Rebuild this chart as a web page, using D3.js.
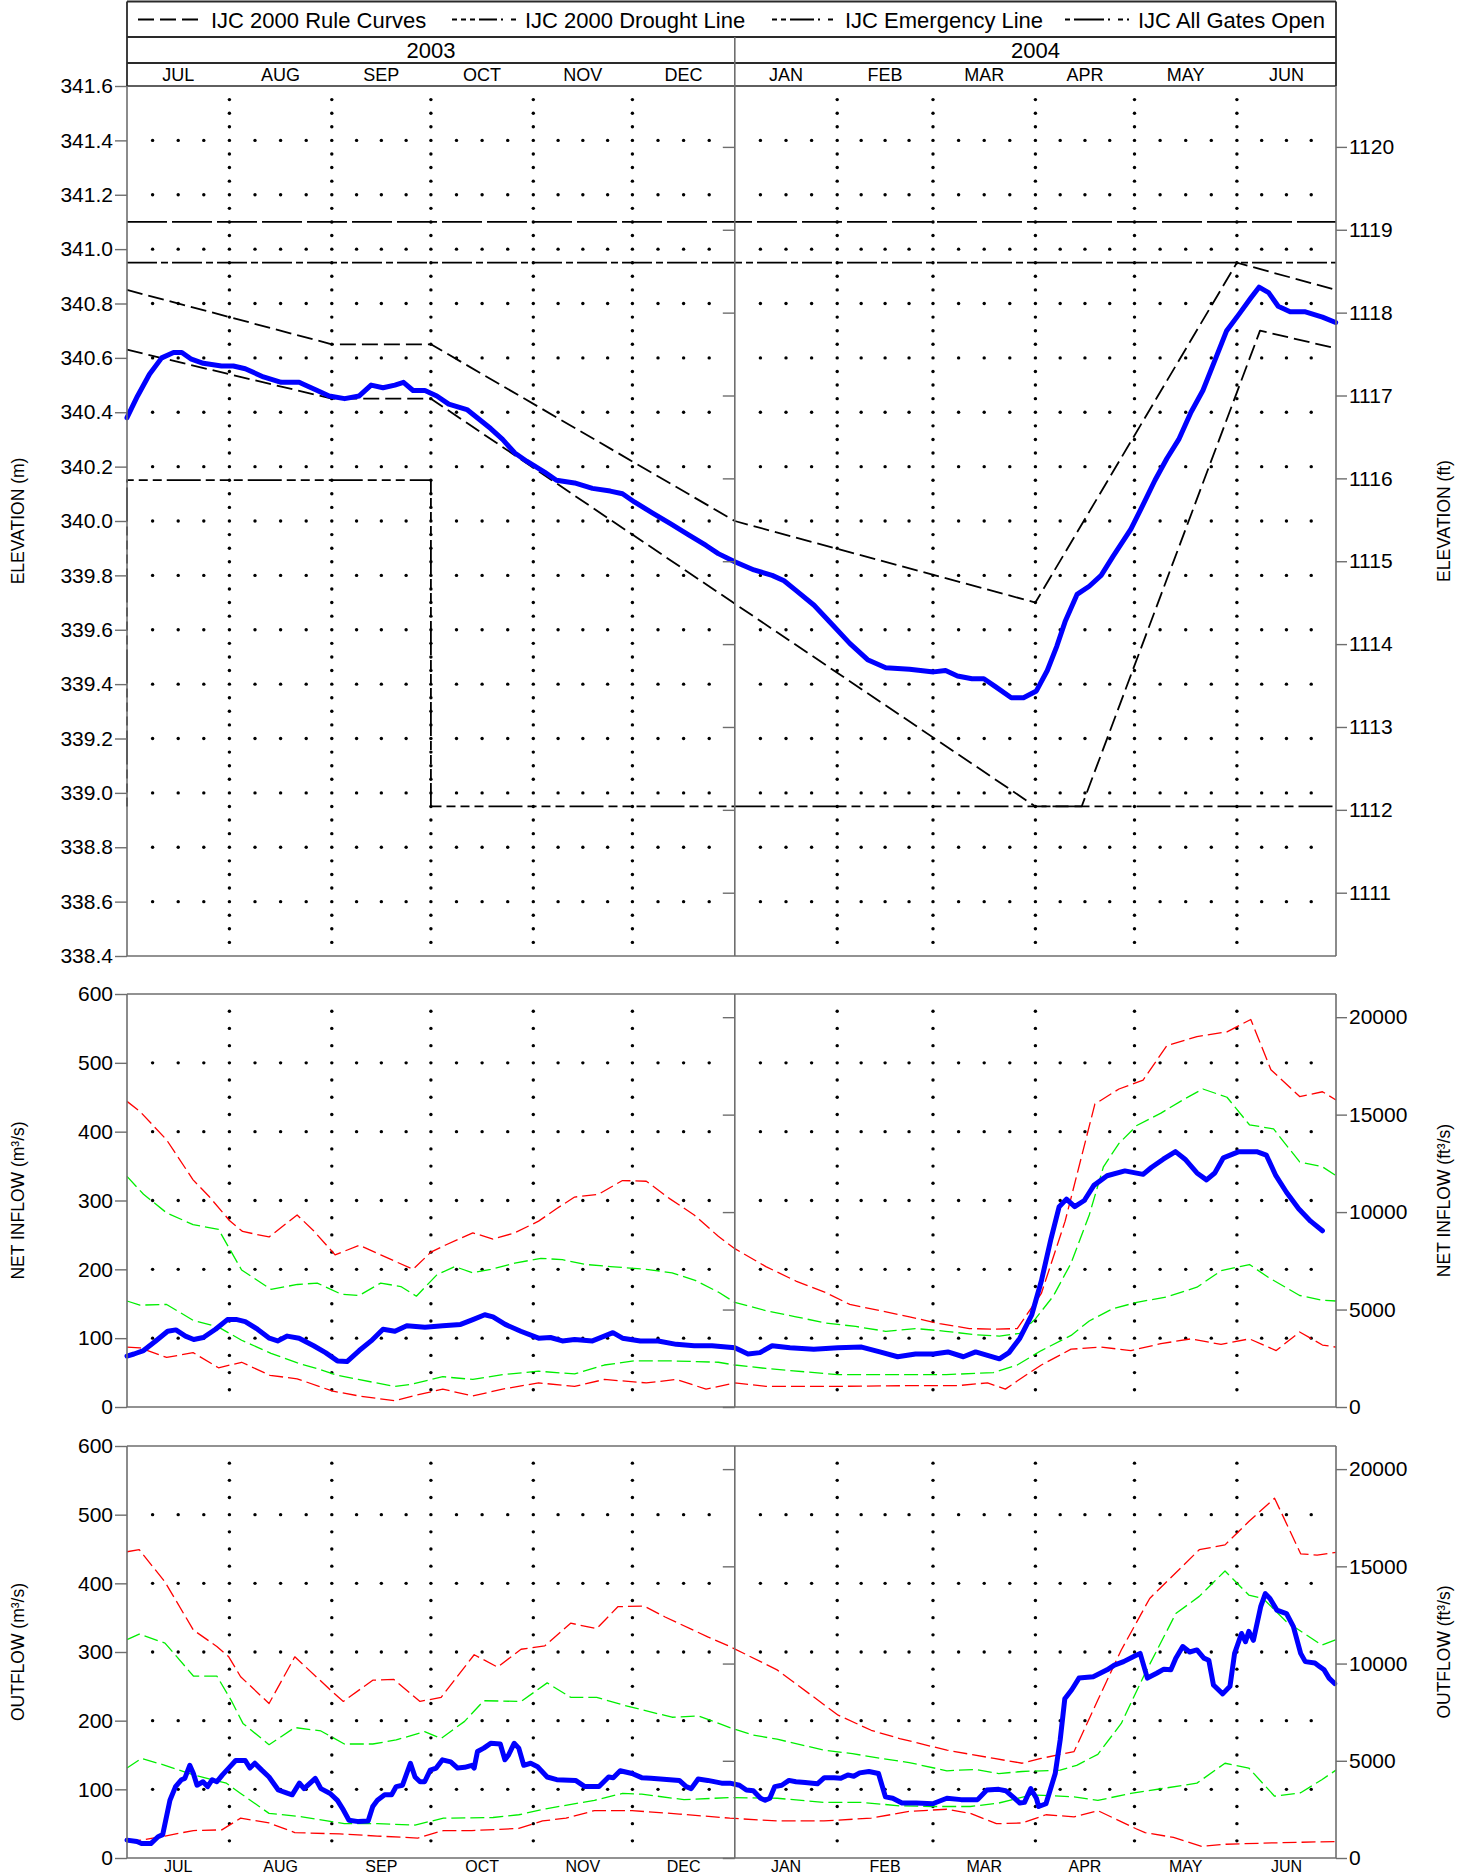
<!DOCTYPE html>
<html>
<head>
<meta charset="utf-8">
<script src="https://cdn.jsdelivr.net/npm/d3@7.9.0/dist/d3.min.js"></script>
<style>
  body { margin: 0; background: #fff; }
  svg { display: block; font-family: "Liberation Sans", Arial, sans-serif; }
</style>
</head>
<body>
<svg id="chart" width="1471" height="1876"></svg>
<script>
// ---- labels ----
const years = ["2003", "2004"];
const monthNames = ["JUL", "AUG", "SEP", "OCT", "NOV", "DEC", "JAN", "FEB", "MAR", "APR", "MAY", "JUN"];
const legendLabels = ["IJC 2000 Rule Curves", "IJC 2000 Drought Line", "IJC Emergency Line", "IJC All Gates Open"];

const elevTicksM = [338.4, 338.6, 338.8, 339.0, 339.2, 339.4, 339.6, 339.8, 340.0, 340.2, 340.4, 340.6, 340.8, 341.0, 341.2, 341.4, 341.6];
const elevTicksFt = [1111, 1112, 1113, 1114, 1115, 1116, 1117, 1118, 1119, 1120];
const flowTicksM = [0, 100, 200, 300, 400, 500, 600];
const flowTicksFt = [0, 5000, 10000, 15000, 20000];

// ---- data: [days since 2003-07-01, value] ----
const elevation = [[0,340.38],[3.2,340.46],[6.8,340.54],[10.5,340.60],[14.1,340.62],[16.6,340.62],[19.5,340.595],[23.1,340.58],[28.6,340.57],[32.2,340.57],[35.8,340.56],[41.3,340.53],[46.7,340.51],[52.1,340.51],[53.9,340.50],[57.6,340.48],[61.2,340.46],[65.9,340.45],[70.3,340.46],[73.9,340.50],[77.5,340.49],[81.1,340.50],[83.7,340.51],[86.6,340.48],[90.2,340.48],[93.8,340.46],[97.4,340.43],[102.9,340.41],[106.5,340.375],[110.1,340.34],[113.7,340.30],[117.4,340.25],[121,340.22],[126.4,340.18],[130,340.15],[135.5,340.14],[140.9,340.12],[146.3,340.11],[150,340.10],[153.6,340.07],[159,340.03],[164.5,339.99],[169.9,339.95],[175.3,339.91],[179,339.88],[184,339.85],[189.8,339.82],[195.3,339.80],[198.9,339.78],[202.5,339.745],[208,339.69],[213.4,339.62],[218.8,339.55],[224.2,339.49],[229.7,339.46],[236.9,339.455],[244.2,339.445],[247.8,339.45],[251.4,339.43],[255.8,339.42],[259.4,339.42],[263,339.39],[267.7,339.35],[271.4,339.35],[275.3,339.375],[278.6,339.45],[281.5,339.54],[284,339.63],[287.6,339.73],[291.3,339.76],[294.9,339.80],[298.5,339.87],[303.9,339.97],[307.6,340.06],[311.2,340.15],[314.8,340.23],[318.4,340.30],[322.1,340.40],[325.7,340.48],[329.3,340.59],[332.9,340.70],[336.6,340.76],[340.2,340.82],[342.7,340.86],[345.6,340.84],[348.5,340.79],[352.1,340.77],[356.5,340.77],[361.9,340.75],[365.9,340.73]];
const ruleUpper = [[0,340.85],[62,340.65],[92,340.65],[184,340.0],[275,339.7],[336,340.95],[366,340.85]];
const ruleLower = [[0,340.63],[62,340.45],[92,340.45],[275,338.95],[289,338.95],[343,340.70],[366,340.635]];
const droughtLine = [[0,338.95],[0,340.15],[92,340.15],[92,338.95],[366,338.95]];
const emergencyLine = [[0,341.1],[366,341.1]];
const allGatesOpen = [[0,340.95],[366,340.95]];

const inflow = [[0,74],[2.1,77],[5,82],[8.7,96],[12.3,110],[14.8,112],[17.7,103],[20.2,98],[23.1,101],[26.8,113],[30.4,127],[33.3,127],[35.8,124],[39.5,113],[43.1,100],[45.6,96],[48.5,103],[52.1,100],[56.5,89],[60.1,79],[63.7,67],[66.6,66],[70.3,82],[73.9,96],[77.5,113],[81.1,110],[84.7,118],[90.2,116],[95.6,118],[101,120],[104.7,127],[108.3,134],[110.8,131],[114.5,120],[119.2,110],[124.6,100],[128.2,101],[131.8,96],[135.5,98],[140.9,96],[144.5,103],[147.1,108],[150,100],[155.4,96],[160.8,96],[166.3,91],[171.7,89],[177.1,89],[184,86],[188,77],[191.6,79],[195.3,89],[200.7,86],[207.9,84],[215.2,86],[222.4,87],[227.9,80],[233.3,73],[238.7,77],[244.2,77],[248.5,80],[253.2,73],[256.9,80],[260.5,75],[264.1,70],[267,79],[270.3,100],[273.9,134],[276.8,183],[279.7,244],[282.2,291],[284.4,302],[286.9,291],[289.8,300],[292.7,322],[296.7,336],[302.1,343],[307.6,338],[310.1,348],[313.7,360],[317.4,371],[320.3,360],[323.9,340],[326.8,330],[329.3,340],[331.9,362],[336.6,371],[342,371],[344.9,366],[347.8,336],[351,312],[354.7,288],[358.3,270],[361.9,256]];
const inflowRedHi = [[0,444],[4,429],[12,388],[20,330],[25,305],[31,271],[35,255],[43,247],[51.5,279],[56.5,256],[63,221],[70.3,235],[76.8,221],[86.6,200],[92,225],[96.3,235],[104.7,253],[110.8,244],[117.4,253],[124.6,270],[130,288],[135.5,305],[142.7,309],[150,329],[157.2,328],[164.5,302],[171.7,279],[179,248],[184,230],[193.4,204],[202.5,183],[211.6,166],[218.8,149],[227.9,140],[236.9,131],[246,121],[255,114],[262.3,113],[269.5,114],[276.8,165],[284,270],[293,440],[300.3,462],[307.6,475],[314.8,525],[323.9,538],[333,545],[340.2,563],[346.3,490],[355,451],[361.9,458],[366,446]];
const inflowGreenHi = [[0,335],[5,309],[12,282],[20,265],[27.7,258],[34.7,199],[43.6,171],[51.6,178],[57.6,180],[64.8,164],[70.3,162],[76.8,180],[82.9,175],[87.6,161],[93.8,192],[99.2,204],[104.7,195],[110.1,200],[117.4,209],[125.3,216],[131.8,214],[139.1,207],[146.3,204],[157.2,200],[165,195],[172,184],[179,167],[184,152],[193.4,140],[202.5,131],[211.6,122],[220.6,117],[229.7,110],[238.7,114],[247.8,110],[256.9,105],[264.1,103],[270.3,107],[275,128],[280.4,161],[285.8,209],[291.3,279],[295.6,349],[300.3,383],[305.7,409],[313,427],[320.3,448],[325.7,462],[333,450],[339.8,410],[347.1,404],[355,356],[361.9,349],[366,336]];
const inflowGreenLo = [[0,154],[3.9,148],[12,149],[20,126],[27.7,116],[34.7,97],[43.6,78],[51.6,64],[58,55],[63,47],[70,40],[81,30],[86,33],[95.6,44],[104.7,40],[113.7,47],[124.6,52],[135.5,48],[144.5,61],[153.6,67],[164.5,67],[179,65],[184,61],[193.4,56],[215.2,47],[229.7,47],[248,47],[262.3,50],[269.5,61],[276.8,82],[285.8,104],[291.3,125],[298.5,143],[305.7,152],[314.8,160],[323.9,174],[331.2,198],[339.8,207],[345.6,188],[355,162],[361.9,155],[366,154]];
const inflowRedLo = [[0,87],[3.9,86],[12,72],[20,79],[27.7,57],[34.7,65],[43.3,46],[51.5,41],[62.3,23],[70.3,16],[81.1,9],[86.6,16],[95.6,26],[104.7,16],[113.7,26],[124.6,35],[135.5,30],[144.5,40],[157.2,35],[166.3,40],[175.3,26],[184,35],[193.4,30],[215.2,30],[236.9,31],[251.4,31],[260.5,35],[265.9,26],[271.4,44],[276.8,61],[285.8,84],[294.9,87],[303.9,82],[313,92],[322.1,99],[331.2,91],[339.8,99],[347.9,82],[355,109],[361.9,90],[366,87]];

const outflow = [[0,26],[3,24],[4.4,21],[7.2,21],[9.4,31],[10.8,34],[13,84],[14.7,104],[16.5,114],[17.5,116],[19,135],[20.1,123],[21.2,106],[23,111],[24.4,104],[25.8,114],[27.2,111],[28.9,121],[31.2,133],[32.9,142],[35.8,142],[37.2,131],[38.7,138],[40.8,128],[43,118],[45.8,99],[48.7,94],[50,92],[52.2,109],[53.6,101],[57,116],[58.7,101],[61.5,94],[63.7,84],[65.5,70],[67.2,55],[70.1,53],[73,54],[74.4,75],[75.8,84],[78,92],[80.1,92],[81.5,104],[83.4,106],[85.8,138],[87.2,118],[88.7,111],[90.1,111],[91.8,128],[93.6,131],[95.5,143],[98,140],[100.1,131],[102.2,132],[104.4,135],[105.1,131],[106.1,155],[108,160],[110.1,167],[113,166],[114.4,143],[115.5,150],[117.2,167],[118.6,160],[120.1,135],[122.2,138],[124.3,133],[127.2,118],[130.1,114],[135.8,113],[138.6,104],[142.9,104],[145.8,118],[147.2,117],[149.3,127],[152.9,123],[155.8,117],[158.6,116],[167.2,113],[169.3,104],[170.8,101],[172.9,115],[175.8,113],[180,109],[182.5,109],[185.4,106],[187.5,99],[189.6,98],[191.8,87],[193.2,84],[194.6,87],[196.1,104],[198.2,106],[200.4,113],[202.5,111],[205.3,110],[209,108],[211.1,117],[214,117],[216.1,116],[218.2,121],[220,119],[221.8,124],[224.6,126],[227.5,123],[229.6,89],[231.8,87],[234.6,80],[238.9,80],[243.9,79],[248.2,87],[252.5,85],[257.5,85],[260.3,99],[263.9,100],[266,98],[268.2,89],[270.3,80],[271.7,81],[273.6,101],[275.3,87],[276,75],[278.2,79],[281,123],[282.5,172],[283.9,232],[286,245],[288.2,262],[292.5,264],[296.7,274],[298.9,281],[301.7,286],[304.6,293],[306.7,298],[308.9,262],[311.7,269],[313.9,275],[316,274],[317.5,291],[319.6,308],[321.7,300],[323.9,303],[326,291],[327.5,288],[328.9,252],[331.7,239],[333.9,250],[335.3,298],[337.4,327],[338.6,315],[339.6,330],[341,317],[343.2,366],[344.6,385],[346,378],[348.1,361],[351,356],[353.1,337],[355.3,298],[356.7,286],[359.6,284],[361,279],[362.4,274],[363.9,262],[365.6,254]];
const outflowRedHi = [[0,446],[3.7,449],[11.5,402],[20.1,332],[27.2,308],[30.8,293],[34.4,264],[43,225],[50.8,293],[61.5,245],[65.5,228],[74.4,259],[80.8,260],[88.7,228],[95.1,234],[105.1,296],[112.2,278],[119.3,304],[126.5,309],[134.3,342],[142.2,334],[148.6,366],[156.5,367],[162.9,351],[175.8,322],[182.5,308],[196.8,274],[215.3,208],[225.3,186],[233.9,174],[248.2,157],[262.5,145],[271,138],[276.7,145],[286.7,155],[293.9,230],[301,303],[309.6,378],[324.6,449],[332.4,456],[339.6,490],[347.4,524],[355.3,443],[360.3,441],[366,445]];
const outflowGreenHi = [[0,318],[3.7,326],[11.5,313],[20.1,265],[27.2,265],[31.5,230],[35.1,196],[43,165],[50.8,190],[58.7,185],[65.8,166],[74.4,166],[81.5,172],[90.1,184],[95.1,174],[102.2,199],[108,229],[119.3,228],[127.2,255],[134.3,234],[142.2,234],[150,223],[155.8,216],[165,205],[172.9,207],[182.5,190],[189.6,179],[196.8,173],[211,157],[219.6,152],[228.2,145],[236.8,139],[248.2,127],[256.8,129],[263.9,123],[271,126],[282.5,128],[287.5,135],[293.9,151],[301,196],[308.2,269],[317.5,356],[324.6,381],[332.4,418],[339.6,383],[343.9,378],[351,344],[361.7,310],[366,318]];
const outflowGreenLo = [[0,131],[4.4,145],[11.5,135],[20.1,121],[30.1,109],[34.4,94],[43,65],[53,60],[65.8,50],[75.8,50],[87.2,48],[95.8,58],[110.8,59],[118.6,63],[127.2,72],[141.5,84],[150,94],[155.8,93],[168.6,85],[182.5,88],[196.8,87],[211,81],[222.5,81],[233.9,76],[243.9,75],[255.3,75],[263.9,80],[273.9,92],[286.7,89],[293.9,84],[303.9,94],[323.9,109],[332.4,138],[339.6,131],[347.4,90],[355.3,95],[361.7,114],[366,128]];
const outflowRedLo = [[0,24],[4.4,26],[11.5,32],[20.1,40],[28.7,41],[34.4,58],[43,51],[50.8,37],[64.4,35],[75.8,32],[88,29],[95.8,40],[104.4,40],[118.6,43],[125.8,54],[132.9,58],[141.5,69],[152.9,69],[167.2,64],[182.5,58],[196.8,54],[211,54],[225.3,58],[236.8,68],[248.2,71],[255.3,65],[263.2,50],[271,51],[278.2,63],[286.7,60],[293.9,69],[305.3,43],[308.2,37],[316.8,30],[325.3,17],[332.4,20],[346.7,22],[366,24]];

// ---- layout ----
const svg = d3.select("#chart");
const t0 = Date.UTC(2003, 6, 1);
const t1 = Date.UTC(2004, 6, 1);
const toDate = (d) => new Date(t0 + d * 864e5);
const x = d3.scaleUtc().domain([t0, t1]).range([127, 1336]);
const xMid = x(Date.UTC(2004, 0, 1));
const frameColor = "#6e6e6e";
const headColor = "#2a2a2a";

const monthStarts = d3.utcMonth.range(new Date(t0), new Date(t1 + 1));

const styles = {
  blue: { stroke: "#0000ff", width: 5, dash: null },
  rule: { stroke: "#000", width: 1.8, dash: "16,6" },
  drought: { stroke: "#000", width: 1.8, dash: "9,5,9,5,9,5,34,5" },
  emergency: { stroke: "#000", width: 1.8, dash: "40,5" },
  gates: { stroke: "#000", width: 1.8, dash: "30,4,7,4" },
  red: { stroke: "#ff0000", width: 1.3, dash: "14,5" },
  green: { stroke: "#00ee00", width: 1.3, dash: "14,5" },
};

const panels = [
  {
    top: 86, bottom: 956, domain: [338.4, 341.6], ticks: elevTicksM, fmt: d3.format(".1f"),
    rTicks: elevTicksFt, toRight: (m) => m / 0.3048, minor: 0.05,
    titleL: "ELEVATION (m)", titleR: "ELEVATION (ft)",
    series: [
      [emergencyLine, "emergency"], [allGatesOpen, "gates"], [droughtLine, "drought"],
      [ruleUpper, "rule"], [ruleLower, "rule"], [elevation, "blue"],
    ],
  },
  {
    top: 994, bottom: 1407, domain: [0, 600], ticks: flowTicksM, fmt: d3.format("d"),
    rTicks: flowTicksFt, toRight: (q) => q * 35.3147, minor: 25,
    titleL: "NET INFLOW (m³/s)", titleR: "NET INFLOW (ft³/s)",
    series: [
      [inflowRedHi, "red"], [inflowGreenHi, "green"], [inflowGreenLo, "green"], [inflowRedLo, "red"], [inflow, "blue"],
    ],
  },
  {
    top: 1446, bottom: 1858, domain: [0, 600], ticks: flowTicksM, fmt: d3.format("d"),
    rTicks: flowTicksFt, toRight: (q) => q * 35.3147, minor: 25,
    titleL: "OUTFLOW (m³/s)", titleR: "OUTFLOW (ft³/s)",
    series: [
      [outflowRedHi, "red"], [outflowGreenHi, "green"], [outflowGreenLo, "green"], [outflowRedLo, "red"], [outflow, "blue"],
    ],
  },
];

function styleAxis(g) {
  g.select(".domain").remove();
  g.selectAll(".tick line").attr("stroke", frameColor).attr("stroke-width", 1.4);
  g.selectAll(".tick text").attr("fill", "#000").style("font-size", "21px");
}

panels.forEach((p) => {
  const y = d3.scaleLinear().domain(p.domain).range([p.bottom, p.top]);
  const yR = d3.scaleLinear().domain(p.domain.map(p.toRight)).range([p.bottom, p.top]);
  const g = svg.append("g");

  // dotted grid: vertical at month boundaries, horizontal at major ticks
  const dots = g.append("g").attr("fill", "#000");
  const nMinor = Math.round((p.domain[1] - p.domain[0]) / p.minor);
  const minorVals = d3.range(1, nMinor).map((i) => p.domain[0] + i * p.minor);
  monthStarts.slice(1, -1).forEach((m) => {
    if (+m === Date.UTC(2004, 0, 1)) return;
    minorVals.forEach((v) => {
      dots.append("circle").attr("cx", x(m)).attr("cy", y(v)).attr("r", 1.7);
    });
  });
  const quarterX = [];
  monthStarts.slice(0, -1).forEach((m, i) => {
    const a = x(m), b = x(monthStarts[i + 1]);
    [1, 2, 3].forEach((k) => quarterX.push(a + (b - a) * k / 4));
  });
  p.ticks.slice(1, -1).forEach((v) => {
    quarterX.forEach((qx) => {
      dots.append("circle").attr("cx", qx).attr("cy", y(v)).attr("r", 1.7);
    });
  });

  // series
  const line = d3.line().x((d) => x(toDate(d[0]))).y((d) => y(d[1]));
  p.series.forEach(([data, key]) => {
    const s = styles[key];
    g.append("path")
      .datum(data)
      .attr("d", line)
      .attr("fill", "none")
      .attr("stroke", s.stroke)
      .attr("stroke-width", s.width)
      .attr("stroke-dasharray", s.dash)
      .attr("stroke-linejoin", "round")
      .attr("stroke-linecap", key === "blue" ? "round" : "butt");
  });

  // frame
  const fr = g.append("g").attr("stroke", frameColor).attr("stroke-width", 1.6);
  fr.append("line").attr("x1", 127).attr("x2", 1336).attr("y1", p.top).attr("y2", p.top)
    .attr("stroke", p.top === 86 ? headColor : frameColor);
  fr.append("line").attr("x1", 127).attr("x2", 1336).attr("y1", p.bottom).attr("y2", p.bottom);
  fr.append("line").attr("x1", 127).attr("x2", 127).attr("y1", p.top).attr("y2", p.bottom);
  fr.append("line").attr("x1", 1336).attr("x2", 1336).attr("y1", p.top).attr("y2", p.bottom);
  fr.append("line").attr("x1", xMid).attr("x2", xMid).attr("y1", p.top).attr("y2", p.bottom);

  // axes
  g.append("g").attr("transform", "translate(127,0)")
    .call(d3.axisLeft(y).tickValues(p.ticks).tickFormat(p.fmt).tickSize(12).tickPadding(2))
    .call(styleAxis);
  g.append("g").attr("transform", "translate(1336,0)")
    .call(d3.axisRight(yR).tickValues(p.rTicks).tickFormat(d3.format("d")).tickSize(11).tickPadding(2))
    .call(styleAxis);
  g.append("g").attr("transform", `translate(${xMid},0)`)
    .call(d3.axisLeft(yR).tickValues(p.rTicks).tickFormat("").tickSize(12))
    .call(styleAxis);

  // axis titles
  const cy = (p.top + p.bottom) / 2;
  g.append("text").attr("transform", `translate(18,${cy}) rotate(-90)`)
    .attr("text-anchor", "middle").attr("dominant-baseline", "central")
    .style("font-size", "17.5px").text(p.titleL);
  g.append("text").attr("transform", `translate(1444,${cy}) rotate(-90)`)
    .attr("text-anchor", "middle").attr("dominant-baseline", "central")
    .style("font-size", "17.5px").text(p.titleR);
});

// ---- header: legend, years, months ----
const head = svg.append("g");
const hd = head.append("g").attr("stroke", headColor).attr("stroke-width", 1.8);
hd.append("line").attr("x1", 127).attr("x2", 1336).attr("y1", 1.5).attr("y2", 1.5);
hd.append("line").attr("x1", 127).attr("x2", 1336).attr("y1", 37).attr("y2", 37);
hd.append("line").attr("x1", 127).attr("x2", 1336).attr("y1", 63).attr("y2", 63);
hd.append("line").attr("x1", 127).attr("x2", 127).attr("y1", 1.5).attr("y2", 86);
hd.append("line").attr("x1", 1336).attr("x2", 1336).attr("y1", 1.5).attr("y2", 86);
hd.append("line").attr("x1", xMid).attr("x2", xMid).attr("y1", 37).attr("y2", 86)
  .attr("stroke", frameColor).attr("stroke-width", 1.6);

const legendSample = ["16,6", "5,4,5,4,5,4,18,4,2,8", "5,4,5,4,24,4,2,8", "5,4,30,4,2,8"];
const legendX = [138, 452, 772, 1065];
legendLabels.forEach((label, i) => {
  head.append("line")
    .attr("x1", legendX[i]).attr("x2", legendX[i] + 64)
    .attr("y1", 19.5).attr("y2", 19.5)
    .attr("stroke", "#000").attr("stroke-width", 1.8)
    .attr("stroke-dasharray", legendSample[i]);
  head.append("text")
    .attr("x", legendX[i] + 73).attr("y", 27.5)
    .style("font-size", "22px").text(label);
});

const yearCenters = [(127 + xMid) / 2, (xMid + 1336) / 2];
years.forEach((yr, i) => {
  head.append("text").attr("x", yearCenters[i]).attr("y", 58)
    .attr("text-anchor", "middle").style("font-size", "22px").text(yr);
});

monthNames.forEach((m, i) => {
  const cx = (x(monthStarts[i]) + x(monthStarts[i + 1])) / 2;
  head.append("text").attr("x", cx).attr("y", 81)
    .attr("text-anchor", "middle").style("font-size", "18px").text(m);
  head.append("text").attr("x", cx).attr("y", 1872)
    .attr("text-anchor", "middle").style("font-size", "16px").text(m);
});
</script>
</body>
</html>
